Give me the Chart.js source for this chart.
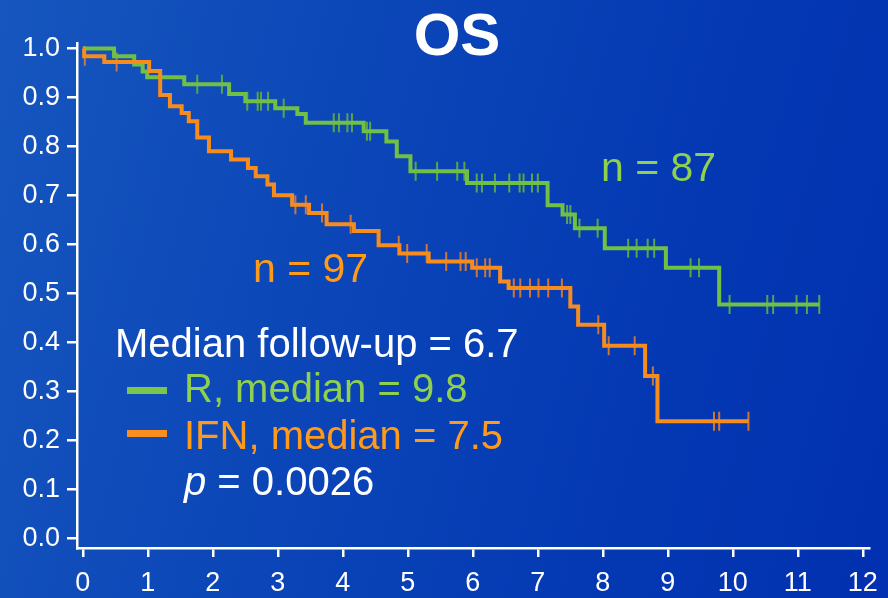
<!DOCTYPE html>
<html>
<head>
<meta charset="utf-8">
<script src="https://cdn.jsdelivr.net/npm/chart.js@4.4.1/dist/chart.umd.min.js"></script>
<style>
    body { margin: 0; }
    .wrap {
        position: relative;
        width: 888px;
        height: 598px;
        overflow: hidden;
        background: linear-gradient(105deg, #1656be 0%, #0c47b8 35%, #0439b3 70%, #0230b0 100%);
        font-family: "Liberation Sans", Arial, sans-serif;
    }
    .wrap canvas { position: absolute; left: 0; top: 0; }
    .txt { position: absolute; line-height: 1; white-space: nowrap; }
    .swatch { position: absolute; width: 40px; height: 7px; }
</style>
</head>
<body>
<div class="wrap">
    <canvas id="chartCanvas" width="888" height="598"></canvas>
    <div class="txt" style="left:457px; top:5px; font-size:60px; font-weight:bold; color:#fff; transform:translateX(-50%);">OS</div>
    <div class="txt" style="left:601px; top:147px; font-size:41px; color:#8fd04e;">n = 87</div>
    <div class="txt" style="left:253px; top:248px; font-size:41px; color:#ff9a1a;">n = 97</div>
    <div class="txt" style="left:115px; top:323px; font-size:40px; color:#fff;">Median follow-up = 6.7</div>
    <div class="swatch" style="left:127px; top:387px; background:#7cc649;"></div>
    <div class="txt" style="left:184px; top:368px; font-size:40px; color:#8fd04e;">R, median = 9.8</div>
    <div class="swatch" style="left:127px; top:430px; background:#f98f1e;"></div>
    <div class="txt" style="left:184px; top:415px; font-size:40px; color:#ff9a1a;">IFN, median = 7.5</div>
    <div class="txt" style="left:184px; top:461px; font-size:40px; color:#fff;"><i>p</i> = 0.0026</div>
</div>
<script>
    // Kaplan-Meier, R arm (tempo, sopravvivenza dopo l'evento)
    const rTimes = [0, 0.48, 0.79, 0.92, 0.99, 1.56, 2.25, 2.50, 2.96, 3.30, 3.43, 4.32, 4.67, 4.83, 5.04, 5.91, 7.15, 7.38, 7.57, 8.03, 8.97, 9.79, 11.33];
    const rSurv  = [1.0, 0.984, 0.967, 0.953, 0.941, 0.927, 0.907, 0.892, 0.878, 0.866, 0.848, 0.831, 0.810, 0.780, 0.749, 0.725, 0.680, 0.661, 0.633, 0.592, 0.552, 0.477, 0.477];
    const rCensor = [1.76, 2.14, 2.53, 2.69, 2.74, 2.85, 3.09, 3.86, 3.94, 4.07, 4.14, 4.37, 4.42, 5.12, 5.45, 5.76, 5.87, 6.06, 6.14, 6.34, 6.56, 6.72, 6.78, 6.91, 7.00, 7.45, 7.50, 7.64, 7.92, 8.39, 8.52, 8.69, 8.79, 9.35, 9.48, 9.95, 10.53, 10.62, 10.98, 11.14, 11.33];

    // IFN arm
    const ifnTimes = [0, 0.02, 0.33, 1.02, 1.19, 1.34, 1.52, 1.63, 1.76, 1.94, 2.28, 2.54, 2.66, 2.84, 2.94, 3.22, 3.48, 3.75, 4.17, 4.55, 4.87, 5.32, 5.99, 6.42, 6.55, 7.50, 7.62, 8.02, 8.65, 8.84, 10.24];
    const ifnSurv  = [1.0, 0.984, 0.972, 0.954, 0.905, 0.882, 0.868, 0.851, 0.818, 0.790, 0.773, 0.756, 0.739, 0.722, 0.700, 0.681, 0.664, 0.641, 0.627, 0.598, 0.581, 0.565, 0.552, 0.524, 0.511, 0.473, 0.436, 0.393, 0.331, 0.239, 0.239];
    const ifnCensor = [0.03, 0.52, 3.27, 3.43, 3.68, 4.12, 4.86, 4.99, 5.29, 5.59, 5.81, 5.89, 6.06, 6.19, 6.26, 6.63, 6.73, 6.88, 7.01, 7.16, 7.37, 7.93, 8.09, 8.49, 8.77, 9.71, 9.79, 10.24];

    const xTicks = [0, 1, 2, 3, 4, 5, 6, 7, 8, 9, 10, 11, 12];
    const yTicks = [0, 0.1, 0.2, 0.3, 0.4, 0.5, 0.6, 0.7, 0.8, 0.9, 1.0];

    const greenLine = '#6fc044';
    const orangeLine = '#f78c1e';

    // valore della curva a gradini al tempo t
    function survAt(times, surv, t) {
        let s = surv[0];
        for (let i = 0; i < times.length; i++) {
            if (times[i] <= t) s = surv[i];
        }
        return s;
    }

    const steps = (times, surv) => times.map((t, i) => ({ x: t, y: surv[i] }));
    const marks = (times, surv, cens) => cens.map(t => ({ x: t, y: survAt(times, surv, t) }));

    const censorStyle = {
        type: 'scatter',
        showLine: false,
        pointStyle: 'line',
        rotation: 90,
        pointRadius: 9.5,
        pointHoverRadius: 9.5,
        borderWidth: 2
    };

    const ctx = document.getElementById('chartCanvas').getContext('2d');
    const chart = new Chart(ctx, {
        type: 'line',
        data: {
            datasets: [
                {
                    label: 'IFN',
                    data: steps(ifnTimes, ifnSurv),
                    borderColor: orangeLine,
                    borderWidth: 4,
                    stepped: 'before',
                    pointRadius: 0,
                    fill: false
                },
                {
                    label: 'R',
                    data: steps(rTimes, rSurv),
                    borderColor: greenLine,
                    borderWidth: 4,
                    stepped: 'before',
                    pointRadius: 0,
                    fill: false
                },
                Object.assign({
                    label: 'IFN censored',
                    data: marks(ifnTimes, ifnSurv, ifnCensor),
                    borderColor: 'rgba(225,125,45,0.9)'
                }, censorStyle),
                Object.assign({
                    label: 'R censored',
                    data: marks(rTimes, rSurv, rCensor),
                    borderColor: 'rgba(95,170,70,0.95)'
                }, censorStyle)
            ]
        },
        options: {
            responsive: false,
            animation: false,
            layout: { padding: { top: 43, right: 18, left: 0, bottom: 0 } },
            plugins: {
                legend: { display: false },
                tooltip: { enabled: false }
            },
            scales: {
                x: {
                    type: 'linear',
                    min: -0.09,
                    max: 12.1,
                    afterBuildTicks: function(axis) {
                        axis.ticks = xTicks.map(v => ({ value: v }));
                    },
                    afterFit: function(scale) {
                        scale.height = 50;
                    },
                    grid: {
                        drawOnChartArea: false,
                        drawTicks: true,
                        tickLength: 9,
                        color: '#ffffff',
                        lineWidth: 2.5
                    },
                    border: { display: true, color: '#ffffff', width: 2.5 },
                    ticks: {
                        color: '#ffffff',
                        padding: 10,
                        maxRotation: 0,
                        autoSkip: false,
                        font: { family: '"Liberation Sans", Arial, sans-serif', size: 27 }
                    }
                },
                y: {
                    type: 'linear',
                    min: -0.02,
                    max: 1.011,
                    afterBuildTicks: function(axis) {
                        axis.ticks = yTicks.map(v => ({ value: v }));
                    },
                    afterFit: function(scale) {
                        scale.width = 77;
                    },
                    grid: {
                        drawOnChartArea: false,
                        drawTicks: true,
                        tickLength: 10,
                        color: '#ffffff',
                        lineWidth: 2.5
                    },
                    border: { display: true, color: '#ffffff', width: 2.5 },
                    ticks: {
                        color: '#ffffff',
                        padding: 7,
                        autoSkip: false,
                        font: { family: '"Liberation Sans", Arial, sans-serif', size: 27 },
                        callback: function(value) {
                            return value.toFixed(1);
                        }
                    }
                }
            }
        }
    });
</script>
</body>
</html>
